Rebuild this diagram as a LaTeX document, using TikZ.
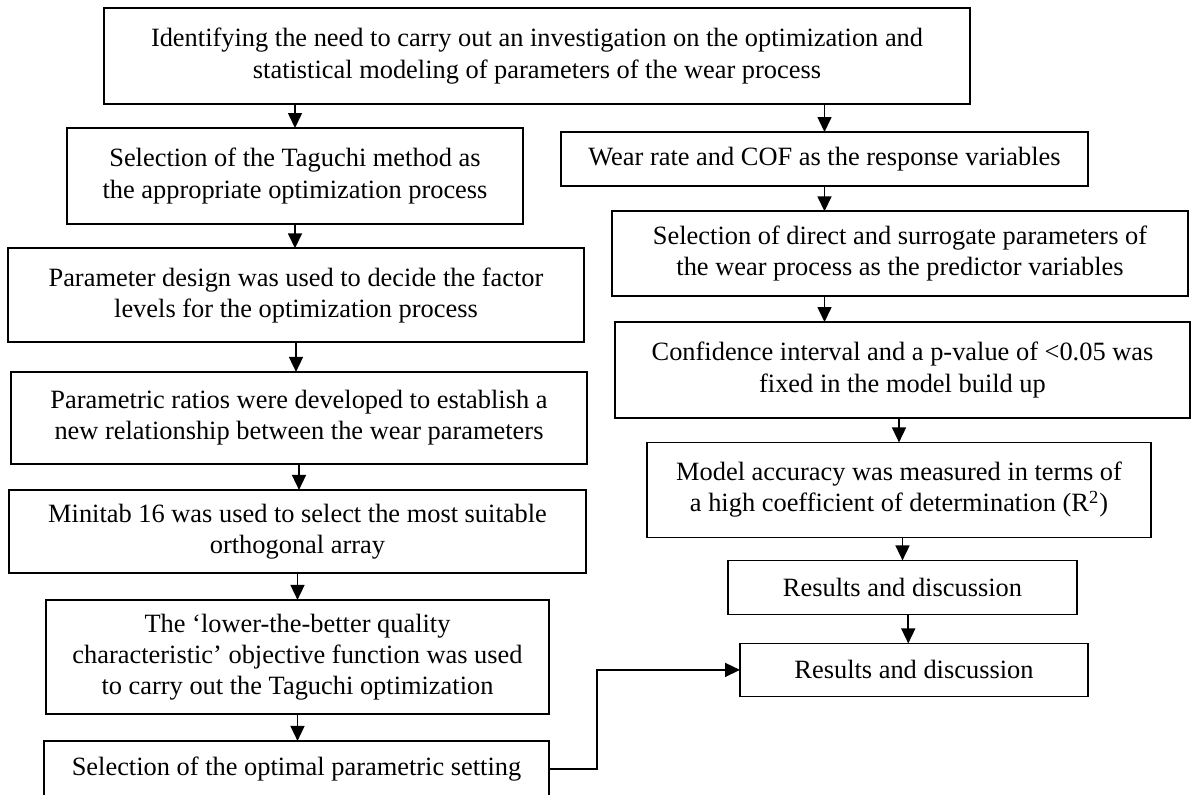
\documentclass[tikz,border=0pt]{standalone}
\usepackage{fontspec}
\setmainfont{Liberation Serif}
\usepackage{tikz}
\usetikzlibrary{arrows.meta, positioning, calc}
\tikzset{
  basebox/.style={rectangle,draw=black,line width=0.9pt,align=center,inner sep=2pt,outer sep=0pt,
    font=\fontsize{13.2}{15.6}\selectfont},
  arr/.style={-{Triangle[length=7.5pt,width=7pt]},line width=0.8pt,color=black},
  linkline/.style={line width=0.8pt,color=black}
}

\begin{document}
\begin{tikzpicture}[x=0.5pt,y=-0.5pt]
  \useasboundingbox (0,0) rectangle (1193,794);
  \node[basebox,minimum width=433pt,minimum height=48pt] (top) at (537,56)
    {Identifying the need to carry out an investigation on the optimization and\\
     statistical modeling of parameters of the wear process};
  % left column
  \node[basebox,minimum width=228pt,minimum height=48pt] (l1) at (295,176)
    {Selection of the Taguchi method as\\the appropriate optimization process};
  \node[basebox,below=12.15pt of l1,xshift=0.5pt,minimum width=288pt,minimum height=47pt] (l2)
    {Parameter design was used to decide the factor\\levels for the optimization process};
  \node[basebox,below=14.8pt of l2,xshift=1.5pt,minimum width=288pt,minimum height=46pt] (l3)
    {Parametric ratios were developed to establish a\\new relationship between the wear parameters};
  \node[basebox,below=13pt of l3,xshift=-0.75pt,minimum width=288.5pt,minimum height=41.5pt] (l4)
    {Minitab 16 was used to select the most suitable\\orthogonal array};
  \node[basebox,below=13.5pt of l4,minimum width=251.5pt,minimum height=57pt] (l5)
    {The `lower-the-better quality\\characteristic' objective function was used\\to carry out the Taguchi optimization};
  \node[basebox,below=13.5pt of l5,xshift=-0.5pt,minimum width=252.5pt,minimum height=28pt] (l6)
    {Selection of the optimal parametric setting};
  % right column
  \node[basebox,minimum width=263.5pt,minimum height=27pt] (r1) at (824.5,159)
    {Wear rate and COF as the response variables};
  \node[basebox,below=12.65pt of r1,xshift=37.75pt,minimum width=288pt,minimum height=42.5pt] (r2)
    {Selection of direct and surrogate parameters of\\the wear process as the predictor variables};
  \node[basebox,below=12.85pt of r2,xshift=1.25pt,minimum width=287.5pt,minimum height=48pt] (r3)
    {Confidence interval and a p-value of <0.05 was\\fixed in the model build up};
  \node[basebox,below=12.2pt of r3,xshift=-1.75pt,minimum width=252pt,minimum height=47.5pt] (r4)
    {Model accuracy was measured in terms of\\a high coefficient of determination (R\textsuperscript{2})};
  \node[basebox,below=11.5pt of r4,xshift=1.75pt,minimum width=174.5pt,minimum height=27pt] (r5)
    {Results and discussion};
  \node[basebox,below=14.5pt of r5,xshift=5.75pt,minimum width=174pt,minimum height=26.5pt] (r6)
    {Results and discussion};
  % connectors
  \draw[arr] (top.south -| l1.north) -- (l1.north);
  \draw[arr] (top.south -| r1.north) -- (r1.north);
  \foreach \a/\b in {l1/l2,l2/l3,l3/l4,l4/l5,l5/l6} \draw[arr] (\a.south) -- (\a.south |- \b.north);
  \draw[arr] (r1.south) -- (r1.south |- r2.north);
  \draw[arr] (r2.south -| r1.south) -- (r3.north -| r1.south);
  \draw[arr] (r3.south -| r4.north) -- (r4.north);
  \draw[arr] (r4.south -| r5.north) -- (r5.north);
  \draw[arr] ($(r5.south)!0.5!(r5.south -| r6.north)$) -- ($(r6.north)!0.5!(r6.north -| r5.south)$);
  \draw[linkline,arr] (l6.east) -- ++(48,0) |- (r6.west);
\end{tikzpicture}
\end{document}
